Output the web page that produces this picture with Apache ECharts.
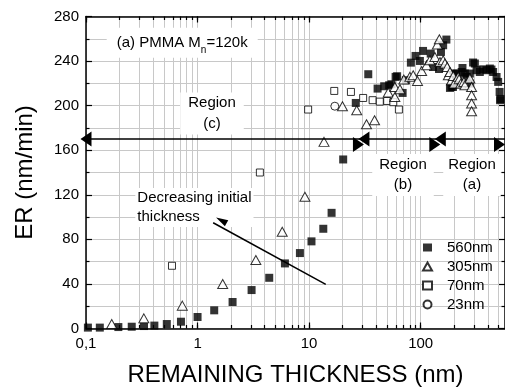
<!DOCTYPE html>
<html><head><meta charset="utf-8">
<script src="https://cdn.jsdelivr.net/npm/echarts@6/dist/echarts.min.js"></script>
<style>html,body{margin:0;padding:0;background:#fff}#c{width:505px;height:392px}</style>
</head><body><div id="c"></div>
<script>
// ---- data ----
const xMajorTicks = [0.1, 1, 10, 100];
const xTickLabels = ['0,1', '1', '10', '100'];
const xMinorTicks = [0.1,0.2,0.3,0.4,0.5,0.6,0.7,0.8,0.9,1,2,3,4,5,6,7,8,9,10,20,30,40,50,60,70,80,90,100,200,300,400,500];
const yTicks = [0, 40, 80, 120, 160, 200, 240, 280];
const xMin = 0.1, xMax = 570;

const s560 = [[0.104,0.8],[0.133,0.8],[0.195,1.3],[0.257,1.6],[0.331,2.2],[0.41,2.6],[0.53,4],[0.71,6.1],[1.0,10.3],[1.41,16.3],[2.06,23.8],[3.05,34.5],[4.39,45.5],[6.07,58.4],[8.27,67.7],[10.5,78.2],[13.4,89.5],[15.9,103.8],[20.2,151.7],[26.2,202.4],[33.9,228.2],[41.1,215.3],[47.1,217.4],[52.2,218.3],[54.8,219.2],[59.6,225.8],[61.5,226.4],[68.9,211.4],[73.7,222.8],[81.7,238.6],[90,244.6],[98.4,240.1],[105,249.1],[123,246.7],[129,234.7],[146,232.9],[152,248.2],[159,254.2],[170,259.3],[183,215.9],[189,216.8],[195,216.8],[198,228.8],[203,222.8],[210,228.8],[224,219.8],[233,230.2],[237,233.8],[249,228.8],[258,225.7],[276,219.8],[276,228.8],[295,238.7],[306,237.8],[317,231.8],[339,230.2],[363,232.6],[389,231.8],[417,233.3],[431,232.4],[446,230.2],[479,225.7],[495,221.3],[510,212.3],[515,204.9],[520,206]];
const s305 = [[0.17,4.0],[0.33,9.1],[0.73,20.5],[1.68,39.9],[3.33,61.4],[5.74,86.8],[9.17,118.2],[13.6,167.5],[19.9,199.5],[26.7,195.9],[32.7,183.3],[38.6,186.9],[51.2,211.8],[58.7,207.8],[58.7,216.8],[65.2,214.7],[70.6,223.4],[80,225.8],[85.7,227.3],[93.7,222.2],[102,231.1],[113,236.2],[121,240.7],[134,243.7],[141,254.8],[147,259.6],[149,239.2],[159,240.7],[165,237.8],[173,234.7],[177,227.3],[183,230.2],[189,222.8],[196,226.6],[200,219.8],[217,225.8],[221,223.7],[229,219.8],[244,221.3],[249,218.3],[276,224.3],[286,216.8],[286,209.3],[286,201.9],[286,195]];
const s70 = [[0.59,56.3],[3.62,140],[9.8,196.5],[16.8,213.2],[23.7,212.3],[30.5,206.9],[37.1,204.9],[43,203.6],[50.1,204.2],[56.8,203.1],[63.8,196.5]];
const s23 = [[17,199.5]];
const regionBounds = [0.1, 31, 150, 570];
const regionArrowY = 170;
const trendArrow = [[14.1, 39.6], [1.38, 94.9]];

// ---- chart ----
const FONT = '"Liberation Sans", Arial, sans-serif';
const chart = echarts.init(document.getElementById('c'), null, {renderer: 'canvas'});
const black = {color: '#000', width: 1.5};
const gridLine = {color: '#c8c8c8', width: 1};

function labelOf(v) {
  for (let i = 0; i < xMajorTicks.length; i++) {
    if (Math.abs(Math.log10(v) - Math.log10(xMajorTicks[i])) < 1e-6) return xTickLabels[i];
  }
  return '';
}
function xAx(pos, major, withLabel) {
  return {
    type: 'log', logBase: 10, min: xMin, max: xMax, position: pos, gridIndex: 0,
    axisLine: {show: major, onZero: false, lineStyle: black},
    axisTick: {show: true, inside: true, length: major ? 6 : 3.5,
      customValues: major ? xMajorTicks : xMinorTicks, lineStyle: {color: '#000', width: 1.2}},
    axisLabel: withLabel ? {show: true, customValues: xMajorTicks, formatter: labelOf,
      fontSize: 15, fontFamily: FONT, color: '#000', margin: 8} : {show: false},
    splitLine: {show: !major && pos === 'bottom', lineStyle: gridLine},
    name: withLabel ? 'REMAINING THICKNESS (nm)' : '',
    nameLocation: 'middle', nameGap: 35,
    nameTextStyle: {fontSize: 24, fontFamily: FONT, color: '#000'}
  };
}
function yAx(pos, withLabel) {
  return {
    type: 'value', min: 0, max: 280, interval: 40, position: pos,
    axisLine: {show: true, onZero: false, lineStyle: black},
    axisTick: {show: true, inside: true, length: 6, lineStyle: {color: '#000', width: 1.2}},
    minorTick: {show: true, splitNumber: 2, length: 3.5, lineStyle: {color: '#000', width: 1.2}},
    axisLabel: withLabel ? {show: true, fontSize: 15, fontFamily: FONT, color: '#000', margin: 7,
      formatter: v => yTicks.indexOf(v) >= 0 ? String(v) : ''} : {show: false},
    splitLine: {show: withLabel, lineStyle: gridLine},
    minorSplitLine: {show: withLabel, lineStyle: gridLine},
    name: withLabel ? 'ER (nm/min)' : '', nameLocation: 'middle', nameGap: 49,
    nameTextStyle: {fontSize: 24, fontFamily: FONT, color: '#000'}
  };
}

const regionLines = [];
for (let i = 0; i < regionBounds.length - 1; i++) {
  regionLines.push([{coord: [regionBounds[i], regionArrowY]}, {coord: [regionBounds[i + 1], regionArrowY]}]);
}

const option = {
  animation: false,
  backgroundColor: '#fff',
  textStyle: {fontFamily: FONT},
  grid: {left: 86, right: 0, top: 16.5, bottom: 63.5, containLabel: false, outerBoundsMode: 'none'},
  xAxis: [xAx('bottom', true, true), xAx('bottom', false, false), xAx('top', true, false), xAx('top', false, false)],
  yAxis: [yAx('left', true), yAx('right', false)],
  legend: {
    orient: 'vertical', left: 422, top: 240, padding: 0,
    itemWidth: 9, itemHeight: 8, itemGap: 4,
    textStyle: {fontSize: 15, fontFamily: FONT, color: '#000', padding: [0, 0, 0, 10]},
    data: ['560nm', '305nm', '70nm', '23nm']
  },
  series: [
    {name: '560nm', type: 'scatter', data: s560, symbol: 'rect', symbolSize: 8,
      itemStyle: {color: '#000'}, z: 3},
    {name: '70nm', type: 'scatter', data: s70, symbol: 'rect', symbolSize: 7,
      itemStyle: {color: '#fff', borderColor: '#000', borderWidth: 1}, z: 3},
    {name: '23nm', type: 'scatter', data: s23, symbol: 'circle', symbolSize: 8,
      itemStyle: {color: '#fff', borderColor: '#000', borderWidth: 1}, z: 3},
    {name: '305nm', type: 'scatter', data: s305, symbol: 'triangle', symbolSize: [10, 9],
      itemStyle: {color: '#fff', borderColor: '#000', borderWidth: 1}, z: 4},
    {name: 'regions', type: 'scatter', data: [], silent: true, z: 5,
      markLine: {silent: true, animation: false, symbol: ['triangle', 'triangle'], symbolSize: [15, 11],
        symbolOffset: [0, 5.5],
        label: {show: false}, emphasis: {disabled: true},
        lineStyle: {color: '#000', width: 1.5, type: 'solid'},
        data: regionLines}},
    {name: 'trend', type: 'scatter', data: [], silent: true, z: 5,
      markLine: {silent: true, animation: false, symbol: ['none', 'triangle'], symbolSize: [7, 12],
        symbolOffset: [0, 6],
        label: {show: false}, emphasis: {disabled: true},
        lineStyle: {color: '#000', width: 1.5, type: 'solid'},
        data: [[{coord: trendArrow[0]}, {coord: trendArrow[1]}]]}}
  ],
  graphic: [
    {type: 'text', z: 1, style: {text: '(a) PMMA M{sub|n}=120k', x: 106.7, y: 42.7, align: 'left', verticalAlign: 'middle',
      font: '15px ' + FONT, fill: '#000', lineHeight: 26, backgroundColor: '#fff', padding: [2, 10, 2, 10],
      rich: {sub: {fontSize: 10, lineHeight: 10, verticalAlign: 'bottom', fontFamily: FONT}}}},
    {type: 'text', z: 1, style: {text: 'Region\n(c)', x: 212, y: 113.5, align: 'center', verticalAlign: 'middle',
      font: '15px ' + FONT, fill: '#000', lineHeight: 21, backgroundColor: '#fff', padding: [0, 8]}},
    {type: 'text', z: 1, style: {text: 'Region\n(b)', x: 403, y: 175, align: 'center', verticalAlign: 'middle',
      font: '15px ' + FONT, fill: '#000', lineHeight: 20, backgroundColor: '#fff', padding: [1, 7]}},
    {type: 'text', z: 1, style: {text: 'Region\n(a)', x: 472, y: 175, align: 'center', verticalAlign: 'middle',
      font: '15px ' + FONT, fill: '#000', lineHeight: 20, backgroundColor: '#fff', padding: [1, 5]}},
    {type: 'text', z: 1, style: {text: 'Decreasing initial\nthickness', x: 135.3, y: 207.5, align: 'left', verticalAlign: 'middle',
      font: '15px ' + FONT, fill: '#000', lineHeight: 18.5, backgroundColor: '#fff', padding: [1, 2]}}
  ]
};
chart.setOption(option);
</script>
</body></html>
